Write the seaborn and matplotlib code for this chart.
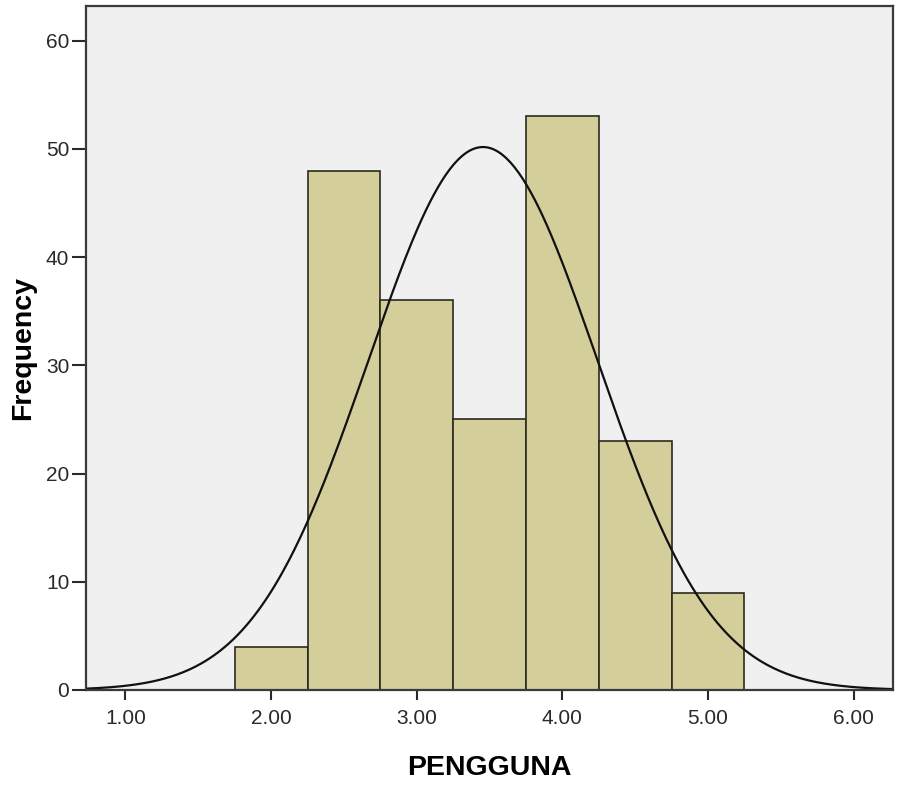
import numpy as np
import pandas as pd
import matplotlib
matplotlib.use("Agg")
import matplotlib.pyplot as plt
import seaborn as sns

# Histogram of PENGGUNA (SPSS style) with normal curve
bin_centers = [2.0, 2.5, 3.0, 3.5, 4.0, 4.5, 5.0]
counts = [4, 48, 36, 25, 53, 23, 9]
bin_width = 0.5
x_ticks = [1.0, 2.0, 3.0, 4.0, 5.0, 6.0]
y_ticks = [0, 10, 20, 30, 40, 50, 60]

df = pd.DataFrame({'PENGGUNA': np.repeat(bin_centers, counts)})
edges = np.append(np.array(bin_centers) - bin_width / 2, bin_centers[-1] + bin_width / 2)

sns.set_style("ticks")
plt.rcParams['font.family'] = ['Liberation Sans', 'DejaVu Sans']

fig = plt.figure(figsize=(8.98, 7.92), dpi=100)
ax = fig.add_axes([0.0958, 0.1288, 0.8986, 0.8636])
ax.set_facecolor('#f0f0f0')

sns.histplot(data=df, x='PENGGUNA', bins=edges, color='#d3ce9a', alpha=1,
             edgecolor='#2b2a1c', linewidth=1.2, ax=ax)

# normal curve from the sample
n = len(df)
mu = df['PENGGUNA'].mean()
sd = df['PENGGUNA'].std()
xs = np.linspace(0.729, 6.27, 400)
ys = n * bin_width * np.exp(-0.5 * ((xs - mu) / sd) ** 2) / (sd * np.sqrt(2 * np.pi))
ax.plot(xs, ys, color='#111111', linewidth=1.6)

ax.set_xlim(0.729, 6.27)
ax.set_ylim(0, 63.2)
ax.set_xticks(x_ticks)
ax.set_xticklabels([f'{v:.2f}' for v in x_ticks])
ax.set_yticks(y_ticks)
ax.tick_params(axis='y', length=10, width=1.5, pad=2, labelsize=15, colors='#2a2a2a')
ax.tick_params(axis='x', length=7, width=1.5, pad=7, labelsize=15, colors='#2a2a2a')
for s in ax.spines.values():
    s.set_visible(True)
    s.set_color('#3a3a3a')
    s.set_linewidth(1.6)

ax.set_xlabel('PENGGUNA', fontsize=20.5, fontweight='bold', labelpad=19, color='black')
ax.set_ylabel('Frequency', fontsize=20.5, fontweight='bold', labelpad=7, color='black')

fig.savefig('out.png', dpi=100)
